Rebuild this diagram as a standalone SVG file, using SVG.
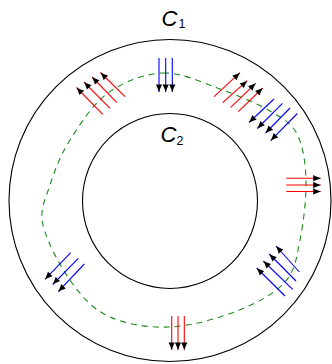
<svg xmlns="http://www.w3.org/2000/svg" width="332" height="364" viewBox="0 0 332 364">
<style>
.circ{fill:none;stroke:#000;stroke-width:1.1}
.path{fill:none;stroke:#1a8a1a;stroke-width:1.1;stroke-dasharray:6 5}
.r{stroke:#ff0000;stroke-width:1.1;fill:none;marker-end:url(#ah)}
.b{stroke:#0000ff;stroke-width:1.1;fill:none;marker-end:url(#ah)}
.lbl{font-family:"Liberation Sans",Arial,sans-serif;font-style:italic;font-size:22px;fill:#000}
.sub{font-family:"Liberation Sans",Arial,sans-serif;font-size:12.5px;fill:#000}
</style>
<defs>
<marker id="ah" markerUnits="userSpaceOnUse" markerWidth="9" markerHeight="7" refX="8" refY="3.5" orient="auto">
<path d="M8,3.5 C6,2.8 2.5,1.5 0.5,0.3 L0.5,6.7 C2.5,5.5 6,4.2 8,3.5 Z" fill="#000"/>
</marker>
</defs>
<g id="outer"><circle class="circ" cx="170" cy="200.5" r="161"/></g>
<g id="inner"><circle class="circ" cx="170" cy="201" r="87.5"/></g>
<g id="label-C1"><text class="lbl" x="161.5" y="26">C</text><text class="sub" x="178.5" y="28">1</text></g>
<g id="label-C2"><text class="lbl" x="160.5" y="141.5">C</text><text class="sub" x="176.5" y="145">2</text></g>
<g id="curve">
<path class="path" d="M163,73 C181.7,72.3 202.2,82.7 220,89 C237.8,95.3 257.2,103.5 270,111 C282.8,118.5 291,122.5 297,134 C303,145.5 305.5,162.3 306,180 C306.5,197.7 303.5,223 300,240 C296.5,257 295.5,270.2 285,282 C274.5,293.8 256.2,303.5 237,311 C217.8,318.5 191.2,326 170,327 C148.8,328 126.3,324.3 110,317 C93.7,309.7 83.2,298.3 72,283 C60.8,267.7 46.7,241.3 43,225 C39.3,208.7 45.5,199.2 50,185 C54.5,170.8 60.3,155.3 70,140 C79.7,124.7 92.5,104.2 108,93 C123.5,81.8 144.3,73.7 163,73 Z"/>
</g>
<g id="connectors">
<g id="red-top-left">
<line class="r" x1="102.7" y1="114.3" x2="76.5" y2="87.5"/>
<line class="r" x1="110" y1="108.3" x2="84" y2="82"/>
<line class="r" x1="116.7" y1="102.3" x2="92" y2="77"/>
<line class="r" x1="125" y1="96.7" x2="100.5" y2="72.5"/>
</g>
<g id="blue-top">
<line class="b" x1="159" y1="58" x2="159" y2="92"/>
<line class="b" x1="165.7" y1="58" x2="165.7" y2="92"/>
<line class="b" x1="172.3" y1="58" x2="172.3" y2="92"/>
</g>
<g id="red-top-right">
<line class="r" x1="214" y1="96.7" x2="240" y2="72.7"/>
<line class="r" x1="222.7" y1="102.7" x2="247.3" y2="80.7"/>
<line class="r" x1="230.7" y1="107.3" x2="255.7" y2="83.3"/>
<line class="r" x1="238.3" y1="111.7" x2="262.7" y2="88"/>
</g>
<g id="blue-top-right">
<line class="b" x1="274" y1="99" x2="249" y2="122.5"/>
<line class="b" x1="282.5" y1="103.3" x2="257.3" y2="128.5"/>
<line class="b" x1="290" y1="108" x2="265.5" y2="133"/>
<line class="b" x1="297.3" y1="113.5" x2="270.7" y2="140.7"/>
</g>
<g id="red-right">
<line class="r" x1="286.3" y1="178.3" x2="320.7" y2="178.3"/>
<line class="r" x1="286.3" y1="185" x2="320.7" y2="185"/>
<line class="r" x1="286.3" y1="191.5" x2="320.7" y2="191.5"/>
</g>
<g id="blue-bottom-right">
<line class="b" x1="285" y1="296" x2="256.7" y2="268"/>
<line class="b" x1="292.7" y1="289.3" x2="263.3" y2="261"/>
<line class="b" x1="296" y1="281" x2="269.3" y2="254"/>
<line class="b" x1="299.3" y1="272" x2="276" y2="246"/>
</g>
<g id="blue-bottom-left">
<line class="b" x1="70.7" y1="252.7" x2="45" y2="279.3"/>
<line class="b" x1="78.3" y1="258.3" x2="52.7" y2="284.5"/>
<line class="b" x1="84.3" y1="264" x2="58.3" y2="291.7"/>
</g>
<g id="red-bottom">
<line class="r" x1="171.7" y1="316" x2="171.7" y2="350"/>
<line class="r" x1="178" y1="316" x2="178" y2="350"/>
<line class="r" x1="184.3" y1="316" x2="184.3" y2="350"/>
</g>
</g>
</svg>
